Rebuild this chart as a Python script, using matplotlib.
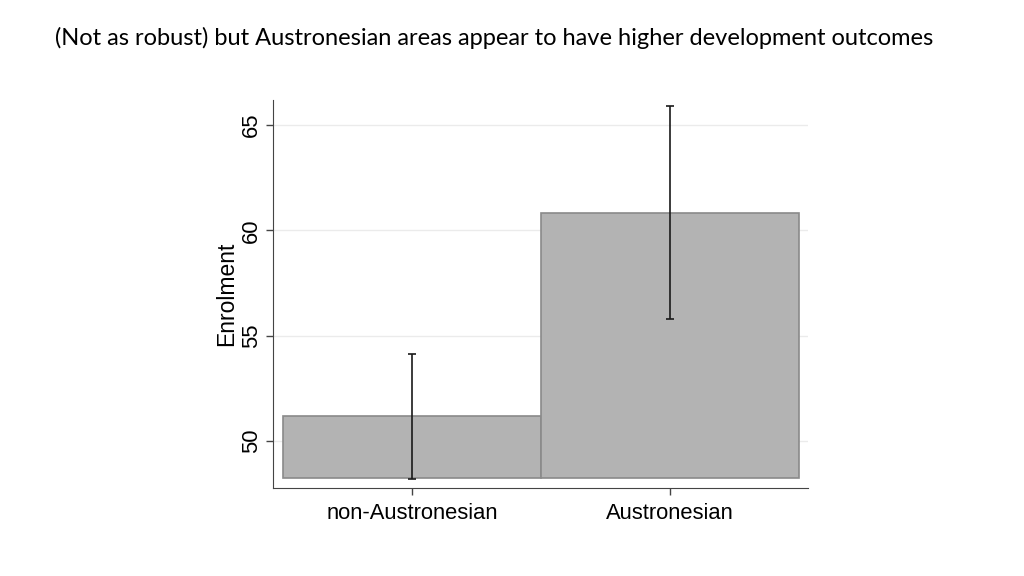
import matplotlib
matplotlib.use("Agg")
import matplotlib.pyplot as plt

categories = ["non-Austronesian", "Austronesian"]
means = [51.19, 60.81]
ci_low = [48.20, 55.81]
ci_high = [54.14, 65.90]
bar_base = 48.24
yticks = [50, 55, 60, 65]

fig = plt.figure(figsize=(10.24, 5.76), dpi=100)
fig.text(55/1024, 1 - 38/576, "(Not as robust) but Austronesian areas appear to have higher development outcomes",
         fontsize=17, family="Lato", va="center", ha="left")

ax = fig.add_axes([273/1024, 88/576, 535/1024, 388/576])
x = list(range(len(categories)))
heights = [m - bar_base for m in means]
ax.bar(x, heights, bottom=bar_base, width=1.0, color="#b3b3b3", edgecolor="#8a8a8a", linewidth=1.2, zorder=2)
err_lo = [m - l for m, l in zip(means, ci_low)]
err_hi = [h - m for m, h in zip(means, ci_high)]
ax.errorbar(x, means, yerr=[err_lo, err_hi], fmt="none", ecolor="#1a1a1a", elinewidth=1.2, capsize=3, capthick=1.2, zorder=3)

ax.set_xlim(-0.539, 1.535)
ax.set_ylim(47.76, 66.2)
ax.set_yticks(yticks)
ax.set_yticklabels([str(t) for t in yticks], rotation=90, va="center", fontsize=15.8, family="Liberation Sans")
ax.set_xticks(x)
ax.set_xticklabels(categories, fontsize=15.8, family="Liberation Sans")
ax.set_ylabel("Enrolment", fontsize=16.5, family="Liberation Sans", labelpad=2)
ax.grid(axis="y", color="#ebebeb", linewidth=1.0, zorder=0)
ax.set_axisbelow(True)
for s in ["top", "right"]:
    ax.spines[s].set_visible(False)
for s in ["left", "bottom"]:
    ax.spines[s].set_color("#444444")
ax.tick_params(axis="both", color="#444444", length=5, width=1)
ax.tick_params(axis="x", pad=6)
ax.tick_params(axis="y", pad=3)

fig.savefig("out.png", dpi=100)
